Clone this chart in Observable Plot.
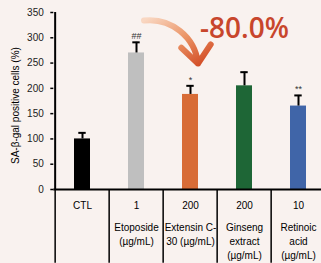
<!DOCTYPE html>
<html><head><meta charset="utf-8">
<script src="https://cdn.jsdelivr.net/npm/d3@7"></script>
<script src="https://cdn.jsdelivr.net/npm/@observablehq/plot@0.6"></script>
<style>
html,body{margin:0;padding:0;background:#f9f2ef;}
</style></head><body><div id="chart"></div>
<script>
const categories = ["CTL", "Etoposide", "Extensin C-30", "Ginseng extract", "Retinoic acid"];
const values = [100, 270, 188, 205, 165];
const errors = [12, 21, 17, 27, 21];
const doses = ["CTL", "1", "200", "200", "10"];
const names = ["", "Etoposide\n(µg/mL)", "Extensin C-\n30 (µg/mL)", "Ginseng\nextract\n(µg/mL)", "Retinoic\nacid\n(µg/mL)"];
const significance = ["", "##", "*", "", "**"];
const colors = ["#000000", "#bfbfbf", "#d86c36", "#1e6636", "#4065a8"];
const yTicks = [0, 50, 100, 150, 200, 250, 300, 350];
const yLabel = "SA-β-gal positive cells (%)";
const changeLabel = "-80.0%";
const arrowCats = ["Etoposide", "Extensin C-30"];
const arrowLevels = [334, 249];
const changeCat = "Ginseng extract";
const changeLevel = 318;
const yLabelLevel = 166;
const dividerBottom = -146;

const data = categories.map((c, i) => ({cat: c, v: values[i], e: values[i] + errors[i], dose: doses[i], name: names[i], sig: significance[i]}));
const arrowData = [{x1: arrowCats[0], y1: arrowLevels[0], x2: arrowCats[1], y2: arrowLevels[1]}];

const W = 321, H = 263, left = 53.3, step = 54.7;

const chart = Plot.plot({
  width: W, height: H,
  marginTop: 12, marginBottom: 74, marginLeft: left, marginRight: 0,
  style: {background: "#f9f2ef", fontFamily: "Liberation Sans, Arial, sans-serif", fontSize: "10px", color: "#000"},
  x: {type: "band", domain: categories, range: [left, left + step * categories.length], padding: 0, axis: null},
  y: {domain: [0, 350], axis: null},
  color: {domain: categories, range: colors},
  marks: [
    Plot.barY(data, {x: "cat", y: "v", fill: "cat", insetLeft: 19, insetRight: 19}),
    Plot.ruleX(data, {x: "cat", y1: "v", y2: "e", stroke: "#000", strokeWidth: 2}),
    Plot.tickY(data, {x: "cat", y: "e", stroke: "#000", strokeWidth: 2, insetLeft: 23.3, insetRight: 23.3}),
    Plot.text(data, {x: "cat", y: "e", text: "sig", dy: -3, lineAnchor: "bottom", fontSize: 9, fill: "#333"}),
    Plot.ruleX([categories[0]], {x: d => d, y1: [0], y2: [350], dx: -step / 2, stroke: "#000", strokeWidth: 2}),
    Plot.ruleX(categories, {x: d => d, y1: 0, y2: dividerBottom, dx: -step / 2, stroke: "#000", strokeWidth: 1.5}),
    Plot.ruleY([0], {stroke: "#000", strokeWidth: 2}),
    Plot.axisY({ticks: yTicks, tickSize: 3, tickPadding: 7, fontSize: 10, label: null, strokeWidth: 1.5, fill: "#222"}),
    Plot.text([yLabel], {y: () => yLabelLevel, frameAnchor: "left", textAnchor: "middle", dx: -38, rotate: -90, fontSize: 10, text: d => d}),
    Plot.text(data, {x: "cat", y: () => 0, text: "dose", dy: 16, fontSize: 10}),
    Plot.text(data, {x: "cat", y: () => 0, text: "name", dy: 32, lineAnchor: "top", lineHeight: 1.4, fontSize: 10}),
    Plot.arrow(arrowData, {x1: "x1", y1: "y1", x2: "x2", y2: "y2", dx: 7.5, bend: 45, stroke: "url(#arrowGrad)", strokeWidth: 6, headLength: 16, headAngle: 80}),
    Plot.text([changeLabel], {x: () => changeCat, y: () => changeLevel, text: d => d, fontSize: 28, fontWeight: 600, fontFamily: "Open Sans", fill: "#c8462c"})
  ]
});

const ns = "http://www.w3.org/2000/svg";
const defs = document.createElementNS(ns, "defs");
defs.innerHTML = '<linearGradient id="arrowGrad" x1="0" y1="0" x2="1" y2="1"><stop offset="0" stop-color="#f9d7c2"/><stop offset="0.5" stop-color="#eb9466"/><stop offset="1" stop-color="#d0451f"/></linearGradient>';
chart.insertBefore(defs, chart.firstChild);
document.getElementById("chart").appendChild(chart);
</script></body></html>
